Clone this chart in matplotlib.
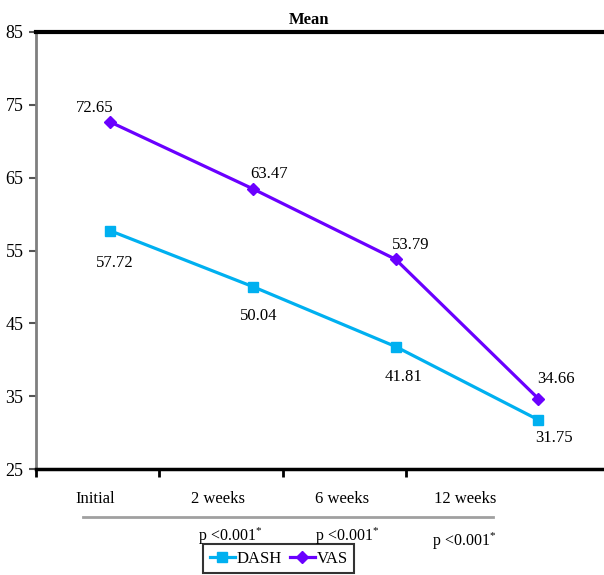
import matplotlib
matplotlib.use("Agg")
import matplotlib.pyplot as plt
from matplotlib.lines import Line2D
import numpy as np

# ---- data ----
categories = ["Initial", "2 weeks", "6 weeks", "12 weeks"]
dash = [57.72, 50.04, 41.81, 31.75]
vas = [72.65, 63.47, 53.79, 34.66]
p_labels = ["p <0.001$^{*}$", "p <0.001$^{*}$", "p <0.001$^{*}$"]
y_ticks = [25, 35, 45, 55, 65, 75, 85]

plt.rcParams["font.family"] = ["Liberation Serif", "DejaVu Serif"]
plt.rcParams["mathtext.fontset"] = "custom"
plt.rcParams["mathtext.rm"] = "Liberation Serif"
plt.rcParams["mathtext.it"] = "Liberation Serif"

W, H = 604, 575
fig = plt.figure(figsize=(W / 100, H / 100), dpi=100)

def fx(px):
    return px / W

def fy(py):
    return 1 - py / H

x0, x1, ytop, ybot = 36, 604, 32, 469
ax = fig.add_axes([fx(x0), fy(ybot), (x1 - x0) / W, (ybot - ytop) / H])

c_dash = "#00B0F0"
c_vas = "#6A00FF"

x = np.arange(len(categories))
ax.plot(x, dash, color=c_dash, lw=2.3, marker="s", ms=6.5, label="DASH", zorder=3)
ax.plot(x, vas, color=c_vas, lw=2.3, marker="D", ms=6, label="VAS", zorder=3)
ax.set_xlim(-0.519, 3.46)
ax.set_ylim(25, 85)
ax.set_yticks(y_ticks)
ax.tick_params(axis="y", labelsize=13, length=5, width=1.5, color="#555555", pad=4)
ax.set_xticks([])

# value labels
vas_off = [(-11, 10), (11.5, 11), (11, 10), (13, 14)]
dash_off = [(3, -23), (4, -21), (6, -22), (11, -13)]
for i in range(len(categories)):
    ax.annotate(f"{vas[i]:.2f}", (x[i], vas[i]), xytext=vas_off[i], textcoords="offset points",
                ha="center", va="center", fontsize=12)
    ax.annotate(f"{dash[i]:.2f}", (x[i], dash[i]), xytext=dash_off[i], textcoords="offset points",
                ha="center", va="center", fontsize=12)

ax.spines["right"].set_visible(False)
ax.spines["left"].set_color("#7f7f7f")
ax.spines["left"].set_linewidth(2)
ax.spines["top"].set_color("black")
ax.spines["top"].set_linewidth(3)
ax.spines["bottom"].set_color("black")
ax.spines["bottom"].set_linewidth(2.5)

# category axis
ax2 = ax.twiny()
ax2.set_xlim(0, (x1 - x0) / 123.3)
ax2.xaxis.set_ticks_position("bottom")
ax2.xaxis.set_label_position("bottom")
ax2.set_xticks(np.arange(len(categories)))
ax2.set_xticklabels([])
ax2.set_xticks(np.arange(len(categories)) + 0.48, minor=True)
ax2.set_xticklabels(categories, minor=True)
ax2.tick_params(axis="x", which="major", length=6, width=2, color="black", direction="out")
ax2.tick_params(axis="x", which="minor", length=0, pad=16, labelsize=12)
for s in ax2.spines.values():
    s.set_visible(False)

# title
fig.text(fx(309), fy(20), "Mean", ha="center", va="center", fontsize=12, fontweight="bold")

# grey separator line
fig.add_artist(Line2D([fx(83), fx(493)], [fy(517), fy(517)], color="#a0a0a0", lw=2))

# p-values
p_pos = [(230, 536), (347, 536), (464, 541)]
for (px, py), t in zip(p_pos, p_labels):
    fig.text(fx(px), fy(py), t, ha="center", va="center", fontsize=11.5)

# legend
leg = fig.legend(loc="upper left", bbox_to_anchor=(fx(203), fy(544)), ncol=2, fontsize=12,
                 frameon=True, fancybox=False, edgecolor="black", handlelength=1.5,
                 handletextpad=0.1, columnspacing=0.5, borderpad=0.4, borderaxespad=0)
leg.get_frame().set_linewidth(1.5)

fig.savefig("out.png", dpi=100)
